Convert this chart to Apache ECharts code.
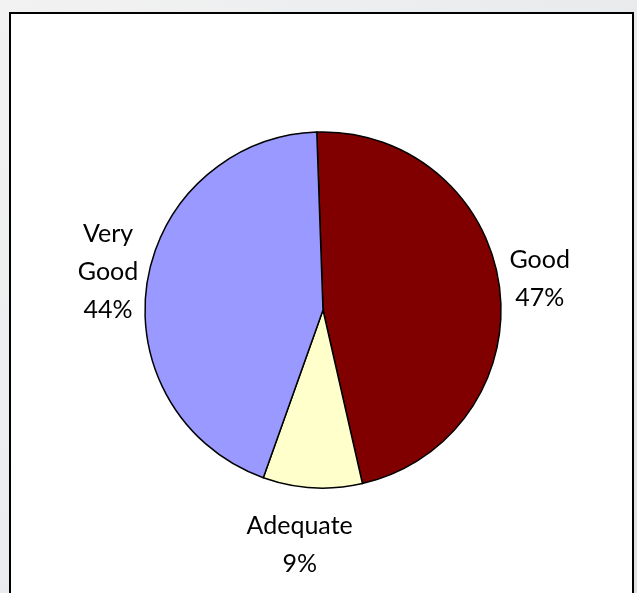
<!DOCTYPE html>
<html>
<head>
<meta charset="utf-8">
<script src="https://cdn.jsdelivr.net/npm/echarts@6/dist/echarts.min.js"></script>
<style>
  html, body { margin: 0; padding: 0; }
  #chart { width: 637px; height: 593px; }
</style>
</head>
<body>
<div id="chart"></div>
<script>
// Ratings share
const categories = ['Good', 'Adequate', 'Very Good'];
const shares = [47, 9, 44];
const labelLines = [['Good', '47%'], ['Adequate', '9%'], ['Very', 'Good', '44%']];
const sliceColors = ['#800000', '#FFFFCC', '#9999FF'];

// Nudges applied to each outside label after the default pie label layout
const labelNudge = [[-7, -7], [46, 45], [8, -9]];

const chart = echarts.init(document.getElementById('chart'), null, { renderer: 'canvas' });

const data = categories.map((name, i) => ({
  name: name,
  value: shares[i],
  itemStyle: { color: sliceColors[i] }
}));

const labelFont = 'Lato, "Open Sans", sans-serif';

chart.setOption({
  animation: false,
  backgroundColor: {
    type: 'linear', x: 0, y: 0, x2: 1, y2: 1,
    colorStops: [
      { offset: 0, color: '#f2f2f2' },
      { offset: 0.5, color: '#e9ebed' },
      { offset: 1, color: '#dde1e4' }
    ]
  },
  graphic: [{
    type: 'rect',
    z: -10,
    shape: { x: 10, y: 13, width: 623, height: 600 },
    style: { fill: '#ffffff', stroke: '#000000', lineWidth: 2 }
  }],
  series: [{
    type: 'pie',
    center: [323, 310],
    radius: 178,
    startAngle: 92,
    clockwise: true,
    avoidLabelOverlap: false,
    itemStyle: { borderColor: '#000000', borderWidth: 1.5 },
    label: {
      show: true,
      position: 'outside',
      color: '#000000',
      fontFamily: labelFont,
      fontSize: 25,
      lineHeight: 38,
      formatter: p => labelLines[p.dataIndex].map(t => '{c|' + t + '}').join('\n'),
      rich: { c: { align: 'center', fontSize: 25, lineHeight: 38, fontFamily: labelFont, color: '#000000' } }
    },
    labelLine: { show: false, length: 12, length2: 0 },
    labelLayout: p => ({ dx: labelNudge[p.dataIndex][0], dy: labelNudge[p.dataIndex][1] }),
    emphasis: { disabled: true },
    data: data
  }]
});
</script>
</body>
</html>
